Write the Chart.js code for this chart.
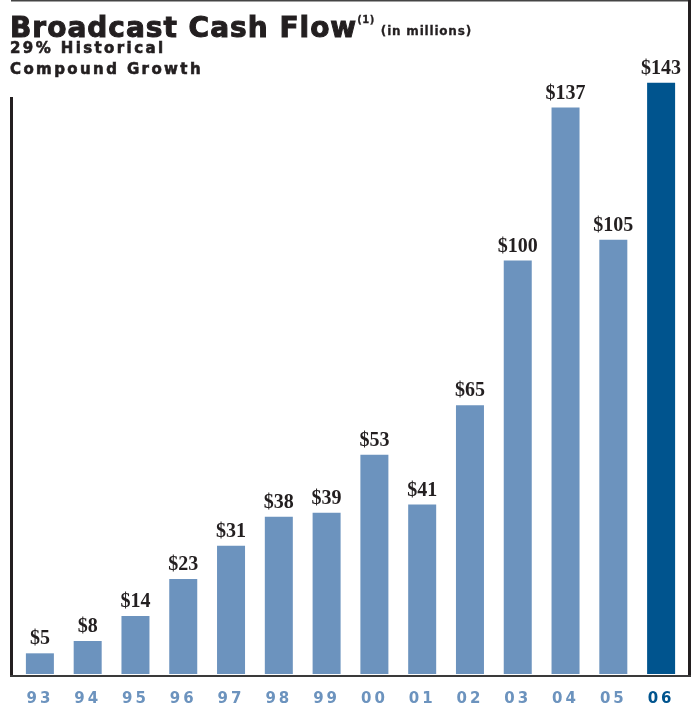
<!DOCTYPE html>
<html>
<head>
<meta charset="utf-8">
<script src="https://cdn.jsdelivr.net/npm/chart.js@4.4.1/dist/chart.umd.min.js"></script>
<style>
  body { margin: 0; background: #fff; }
  #wrap { position: relative; width: 699px; height: 713px; }
  .hd { position: absolute; left: 10px; font-family: "DejaVu Sans", sans-serif; font-weight: bold; color: #231f20; white-space: nowrap; -webkit-text-stroke: 0.6px #231f20; }
  #title { top: 10px; font-size: 28px; line-height: 28px; letter-spacing: 1px; -webkit-text-stroke: 1px #231f20; }
  #title sup { font-size: 10px; position: relative; top: -4px; letter-spacing: 0.5px; -webkit-text-stroke: 0.3px #231f20; }
  #title small { font-size: 12px; letter-spacing: 0.8px; position: relative; top: -2px; margin-left: 6px; -webkit-text-stroke: 0.3px #231f20; }
  .sub { font-size: 15px; line-height: 15px; letter-spacing: 2.4px; }
</style>
</head>
<body>
<div id="wrap">
  <canvas id="cashflow"></canvas>
  <div class="hd" id="title">Broadcast Cash Flow<sup>(1)</sup><small>(in millions)</small></div>
  <div class="hd sub" style="top:41px">29% Historical</div>
  <div class="hd sub" style="top:62px">Compound Growth</div>
</div>
<script>
// fiscal years and broadcast cash flow ($ millions)
var years = ["93", "94", "95", "96", "97", "98", "99", "00", "01", "02", "03", "04", "05", "06"];
var cashFlow = [5, 8, 14, 23, 31, 38, 39, 53, 41, 65, 100, 137, 105, 143];

var lightBlue = '#6c93be';
var darkBlue = '#00548e';
var barColors = years.map(function (y, i) { return i === years.length - 1 ? darkBlue : lightBlue; });

// box lines around the plot: thin top, heavy sides, base line
var frame = {
  id: 'frame',
  beforeDraw: function (chart) {
    // spaced-out year labels
    chart.ctx.letterSpacing = '3px';
  },
  afterDraw: function (chart) {
    var ctx = chart.ctx, a = chart.chartArea;
    ctx.save();
    ctx.letterSpacing = '0px';
    ctx.strokeStyle = '#444';
    ctx.lineWidth = 1.5;
    ctx.beginPath();
    ctx.moveTo(a.left - 5, 0.75);
    ctx.lineTo(a.right + 3, 0.75);
    ctx.stroke();
    ctx.strokeStyle = '#231f20';
    ctx.lineWidth = 3;
    ctx.beginPath();
    ctx.moveTo(a.right + 4.5, 0);
    ctx.lineTo(a.right + 4.5, a.bottom + 3);
    ctx.moveTo(a.left - 4.5, 97);
    ctx.lineTo(a.left - 4.5, a.bottom + 3);
    ctx.stroke();
    ctx.strokeStyle = '#3a3a3a';
    ctx.lineWidth = 2;
    ctx.beginPath();
    ctx.moveTo(a.left - 6, a.bottom + 2);
    ctx.lineTo(a.right + 6, a.bottom + 2);
    ctx.stroke();
    ctx.restore();
  }
};

// "$nn" above each bar
var valueLabels = {
  id: 'valueLabels',
  afterDatasetsDraw: function (chart) {
    var ctx = chart.ctx;
    var meta = chart.getDatasetMeta(0);
    ctx.save();
    ctx.letterSpacing = '0px';
    ctx.font = 'bold 20px "Liberation Serif", serif';
    ctx.fillStyle = '#231f20';
    ctx.textAlign = 'center';
    ctx.textBaseline = 'bottom';
    meta.data.forEach(function (bar, i) {
      ctx.fillText('$' + cashFlow[i], bar.x, bar.y - 4);
    });
    ctx.restore();
  }
};

new Chart(document.getElementById('cashflow'), {
  type: 'bar',
  data: {
    labels: years,
    datasets: [{
      data: cashFlow,
      backgroundColor: barColors,
      borderWidth: 0,
      barPercentage: 0.586,
      categoryPercentage: 1
    }]
  },
  options: {
    responsive: true,
    maintainAspectRatio: false,
    animation: false,
    layout: { padding: { left: 16, right: 14, top: 0, bottom: 5 } },
    plugins: {
      legend: { display: false },
      tooltip: { enabled: false }
    },
    scales: {
      x: {
        grid: { display: false, drawTicks: false },
        border: { display: false },
        afterFit: function (scale) { scale.height = 34; },
        ticks: {
          padding: 16,
          font: { family: '"DejaVu Sans", sans-serif', weight: 'bold', size: 15 },
          color: function (c) { return c.index === years.length - 1 ? darkBlue : lightBlue; }
        }
      },
      y: {
        display: false,
        min: 0,
        max: 163
      }
    }
  },
  plugins: [frame, valueLabels]
});
</script>
</body>
</html>
